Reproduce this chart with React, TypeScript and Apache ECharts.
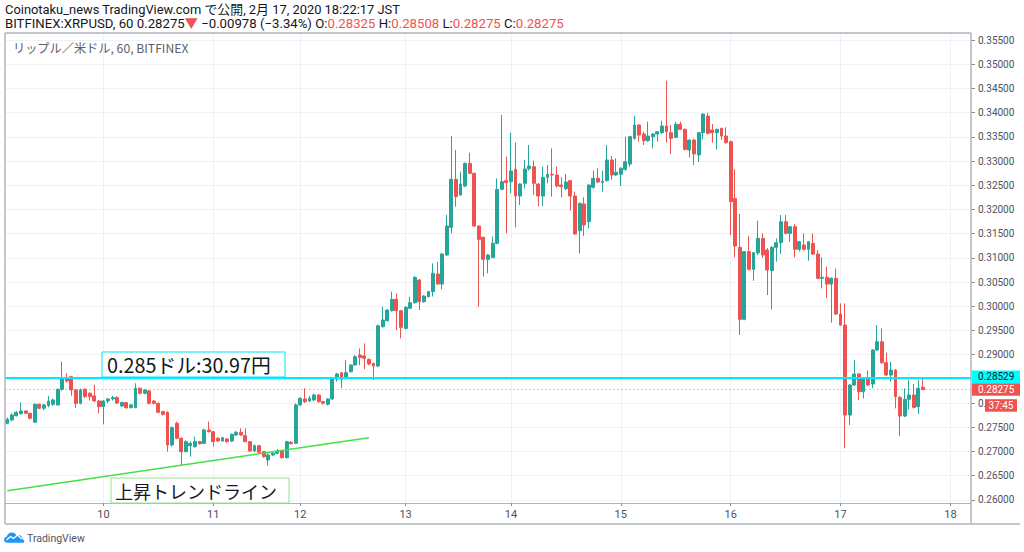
import React, { useEffect, useRef } from "react";
import * as echarts from "echarts";

// Hourly candles, each [open, close, low, high]
const feb09 = [
  [0.27581, 0.27663, 0.2756, 0.277], [0.2765, 0.27753, 0.2762, 0.2779], [0.27739, 0.27808, 0.2772, 0.2783],
  [0.2778, 0.27836, 0.2776, 0.28008], [0.27836, 0.27787, 0.2777, 0.2785], [0.27787, 0.27684, 0.2766, 0.278],
  [0.27601, 0.27973, 0.2759, 0.27994], [0.27973, 0.27891, 0.2787, 0.2799], [0.27891, 0.2796, 0.2785, 0.2798],
  [0.27946, 0.28042, 0.2791, 0.28146], [0.27973, 0.28063, 0.2794, 0.2809], [0.2796, 0.28283, 0.2795, 0.283],
  [0.28283, 0.28511, 0.2825, 0.28855], [0.28511, 0.28456, 0.2842, 0.28614], [0.28545, 0.2827, 0.2815, 0.2856],
  [0.2827, 0.27994, 0.279, 0.2829], [0.27994, 0.2827, 0.2797, 0.283], [0.28283, 0.28132, 0.281, 0.283],
  [0.28201, 0.28132, 0.2805, 0.2822], [0.28146, 0.28042, 0.2802, 0.28373], [0.28042, 0.27925, 0.27787, 0.2806],
];
const feb10 = [
  [0.27925, 0.28042, 0.2756, 0.2806], [0.28042, 0.28084, 0.28, 0.281], [0.28084, 0.28111, 0.2805, 0.2815],
  [0.28111, 0.28, 0.2798, 0.2814], [0.27939, 0.28008, 0.2792, 0.2803], [0.28008, 0.27904, 0.2788, 0.2802],
  [0.27904, 0.2796, 0.2789, 0.2798], [0.27904, 0.28304, 0.2789, 0.28407], [0.28304, 0.28201, 0.2818, 0.2832],
  [0.28201, 0.2827, 0.2818, 0.2829], [0.28249, 0.27994, 0.2797, 0.2827], [0.28042, 0.27994, 0.2797, 0.2806],
  [0.27994, 0.27808, 0.2779, 0.2801], [0.27822, 0.27767, 0.2774, 0.2784], [0.27808, 0.27133, 0.26995, 0.2783],
  [0.27133, 0.27491, 0.271, 0.2752], [0.27581, 0.27271, 0.2725, 0.27615], [0.27271, 0.26995, 0.26719, 0.2729],
  [0.26995, 0.27202, 0.2698, 0.2723], [0.27119, 0.27167, 0.26892, 0.27202], [0.27098, 0.27202, 0.2708, 0.27305],
  [0.27202, 0.2716, 0.2714, 0.27215], [0.27167, 0.27443, 0.2715, 0.2747], [0.27443, 0.27408, 0.2739, 0.27615],
];
const feb11 = [
  [0.27408, 0.27202, 0.271, 0.2742], [0.27271, 0.27215, 0.2719, 0.2729], [0.27215, 0.27284, 0.272, 0.273],
  [0.27257, 0.27202, 0.2718, 0.2727], [0.27215, 0.27353, 0.272, 0.2737], [0.2734, 0.27395, 0.2732, 0.2742],
  [0.27395, 0.2734, 0.2732, 0.27477], [0.27326, 0.27202, 0.2719, 0.27477], [0.27202, 0.27009, 0.2699, 0.27215],
  [0.27009, 0.27119, 0.2699, 0.2714], [0.27119, 0.26981, 0.2696, 0.27133], [0.26995, 0.26892, 0.2687, 0.27009],
  [0.26823, 0.26926, 0.26706, 0.2696], [0.26926, 0.26961, 0.269, 0.27], [0.26961, 0.27009, 0.2694, 0.2705],
  [0.27009, 0.26871, 0.2685, 0.2703], [0.26871, 0.27202, 0.2685, 0.2722], [0.27188, 0.2716, 0.2714, 0.27215],
  [0.27167, 0.2796, 0.2715, 0.2799],
];
const feb12 = [
  [0.2796, 0.28097, 0.2794, 0.2812], [0.28084, 0.28029, 0.28, 0.28304], [0.28042, 0.28097, 0.2802, 0.2815],
  [0.28063, 0.28166, 0.2804, 0.282], [0.28166, 0.28029, 0.28, 0.2818], [0.28029, 0.27994, 0.2797, 0.2804],
  [0.27973, 0.28084, 0.2795, 0.281], [0.28084, 0.28497, 0.2806, 0.2852], [0.28497, 0.286, 0.28442, 0.2862],
  [0.28627, 0.28489, 0.2831, 0.2864], [0.28509, 0.28627, 0.2849, 0.28888], [0.28647, 0.28785, 0.2863, 0.288],
  [0.28785, 0.28957, 0.2877, 0.2899], [0.28991, 0.28943, 0.2878, 0.29129], [0.28971, 0.28923, 0.287, 0.29232],
  [0.28902, 0.28806, 0.2878, 0.2892], [0.28819, 0.28764, 0.28475, 0.2883], [0.28764, 0.29597, 0.2874, 0.2962],
  [0.29577, 0.29715, 0.2956, 0.2999], [0.29701, 0.29921, 0.2968, 0.2994], [0.29907, 0.30142, 0.2989, 0.303],
  [0.30142, 0.29907, 0.29508, 0.30266], [0.29907, 0.29563, 0.29336, 0.2992],
];
const feb13 = [
  [0.29542, 0.29976, 0.2952, 0.3], [0.29956, 0.30073, 0.2994, 0.30197], [0.30073, 0.30596, 0.3005, 0.3062],
  [0.30541, 0.30093, 0.29921, 0.3056], [0.30093, 0.3021, 0.3007, 0.3023], [0.30197, 0.303, 0.3018, 0.3032],
  [0.303, 0.30679, 0.302, 0.30885], [0.30665, 0.30458, 0.3044, 0.3092], [0.30458, 0.31078, 0.30348, 0.311],
  [0.31058, 0.31657, 0.3104, 0.31884], [0.31629, 0.32621, 0.31505, 0.33516], [0.32621, 0.32263, 0.32056, 0.33227],
  [0.32297, 0.32525, 0.3228, 0.32779], [0.32483, 0.32951, 0.3246, 0.3297], [0.32951, 0.32745, 0.3273, 0.33172],
  [0.32745, 0.31657, 0.3164, 0.3276], [0.31657, 0.31381, 0.2999, 0.3167], [0.31423, 0.30968, 0.3061, 0.3144],
  [0.30968, 0.31058, 0.30679, 0.3108], [0.31009, 0.31299, 0.3099, 0.31436], [0.31299, 0.32414, 0.3128, 0.3264],
  [0.32415, 0.32573, 0.324, 0.3395], [0.32594, 0.32553, 0.31506, 0.3309],
];
const feb14 = [
  [0.32573, 0.32794, 0.32332, 0.33586], [0.32828, 0.32277, 0.3163, 0.33379], [0.32277, 0.32525, 0.32091, 0.3254],
  [0.32539, 0.32835, 0.32436, 0.33021], [0.32842, 0.32897, 0.328, 0.33331], [0.32883, 0.32539, 0.32298, 0.33007],
  [0.32525, 0.32277, 0.32064, 0.3254], [0.32277, 0.32663, 0.32071, 0.32883], [0.32663, 0.32725, 0.32539, 0.32918],
  [0.32725, 0.32711, 0.32263, 0.33262], [0.32711, 0.32484, 0.3245, 0.32883], [0.32504, 0.3247, 0.3225, 0.32663],
  [0.32429, 0.32566, 0.324, 0.32731], [0.32594, 0.32277, 0.31974, 0.3261], [0.32277, 0.31492, 0.3148, 0.32367],
  [0.31561, 0.32126, 0.31092, 0.3214], [0.32112, 0.31678, 0.3145, 0.3225], [0.31747, 0.32504, 0.31609, 0.3252],
  [0.32456, 0.32642, 0.3243, 0.328], [0.32642, 0.32566, 0.3254, 0.32849], [0.3256, 0.3258, 0.32367, 0.328],
  [0.32594, 0.33021, 0.3258, 0.33331], [0.33021, 0.32711, 0.32608, 0.33104], [0.32711, 0.32766, 0.3269, 0.33055],
];
const feb15 = [
  [0.32725, 0.32849, 0.32484, 0.3287], [0.32828, 0.32986, 0.328, 0.33503], [0.32938, 0.33503, 0.32883, 0.3352],
  [0.33468, 0.33744, 0.3344, 0.3393], [0.33744, 0.33537, 0.334, 0.3376], [0.33558, 0.3342, 0.3333, 0.336],
  [0.3342, 0.33516, 0.334, 0.33813], [0.335, 0.33558, 0.33262, 0.3357], [0.33558, 0.33606, 0.334, 0.3362],
  [0.33585, 0.33723, 0.3356, 0.33833], [0.33723, 0.33606, 0.33379, 0.3466], [0.33585, 0.33468, 0.33145, 0.33744],
  [0.33489, 0.33758, 0.3347, 0.33813], [0.33758, 0.33654, 0.3364, 0.33813], [0.33654, 0.33241, 0.3322, 0.33675],
  [0.33227, 0.33434, 0.33076, 0.3345], [0.33434, 0.33145, 0.32917, 0.3345], [0.33124, 0.33585, 0.3298, 0.336],
  [0.33585, 0.33971, 0.33448, 0.3398], [0.3393, 0.33572, 0.3355, 0.33998], [0.33641, 0.33585, 0.33379, 0.33764],
  [0.33585, 0.33654, 0.33241, 0.3367], [0.33675, 0.33516, 0.33434, 0.3369], [0.33516, 0.33379, 0.3336, 0.33695],
];
const feb16 = [
  [0.33399, 0.3216, 0.31471, 0.3342], [0.32228, 0.31244, 0.3101, 0.32828], [0.31216, 0.29729, 0.29405, 0.31905],
  [0.29729, 0.31127, 0.2971, 0.3114], [0.31127, 0.30762, 0.3074, 0.3145], [0.30762, 0.31106, 0.30527, 0.3112],
  [0.311, 0.31402, 0.31058, 0.31767], [0.31402, 0.31058, 0.31, 0.31505], [0.31161, 0.30748, 0.30231, 0.312],
  [0.30734, 0.31216, 0.29935, 0.3124], [0.31216, 0.31312, 0.3092, 0.31402], [0.31312, 0.31746, 0.31078, 0.31884],
  [0.31746, 0.31505, 0.3148, 0.31884], [0.31505, 0.31643, 0.31333, 0.3166], [0.31643, 0.31175, 0.3101, 0.31698],
  [0.31175, 0.31333, 0.3113, 0.3135], [0.31264, 0.31175, 0.3115, 0.31505], [0.31175, 0.31333, 0.3094, 0.3135],
  [0.31299, 0.31078, 0.3106, 0.31505], [0.31078, 0.30576, 0.3056, 0.3116], [0.30576, 0.30597, 0.30369, 0.31009],
  [0.30597, 0.30458, 0.30163, 0.30817], [0.30458, 0.30576, 0.2966, 0.30597], [0.30576, 0.29839, 0.2982, 0.30782],
];
const feb17 = [
  [0.29839, 0.29611, 0.2959, 0.30059], [0.29611, 0.27752, 0.27063, 0.30059], [0.27752, 0.28372, 0.27545, 0.2839],
  [0.28372, 0.28599, 0.2835, 0.28888], [0.28599, 0.28234, 0.28062, 0.2862], [0.28234, 0.2851, 0.28096, 0.2853],
  [0.2851, 0.28372, 0.2835, 0.28668], [0.28393, 0.29095, 0.28303, 0.2911], [0.29095, 0.29267, 0.2908, 0.29611],
  [0.29267, 0.28833, 0.2881, 0.29542], [0.28833, 0.28578, 0.2856, 0.2904], [0.28578, 0.28682, 0.28441, 0.28854],
  [0.28682, 0.28131, 0.2789, 0.287], [0.28117, 0.27731, 0.27318, 0.2814], [0.27731, 0.28076, 0.2771, 0.28303],
  [0.28076, 0.28165, 0.27869, 0.28475], [0.28165, 0.2791, 0.2789, 0.28393], [0.27924, 0.28303, 0.27773, 0.28475],
  [0.28325, 0.28275, 0.28275, 0.28508],
];

// day groups (day number, candles, empty future slots)
const dayGroups: { day: number; bars: number[][]; empty: number }[] = [
  { day: 9, bars: feb09, empty: 0 },
  { day: 10, bars: feb10, empty: 0 },
  { day: 11, bars: feb11, empty: 0 },
  { day: 12, bars: feb12, empty: 0 },
  { day: 13, bars: feb13, empty: 0 },
  { day: 14, bars: feb14, empty: 0 },
  { day: 15, bars: feb15, empty: 0 },
  { day: 16, bars: feb16, empty: 0 },
  { day: 17, bars: feb17, empty: 5 },
  { day: 18, bars: [], empty: 5 },
];

const hLevel = 0.28529;
const lastPrice = 0.28275;
const trendFrom = [0, 0.26188];
const trendTo = [79, 0.27283];

const headerLine1 = "Coinotaku_news TradingView.com で公開, 2月 17, 2020 18:22:17 JST";
const paneTitle = "リップル／米ドル, 60, BITFINEX";
const levelNote = "0.285ドル:30.97円";
const trendNote = "上昇トレンドライン";
const countdown = "37:45";

const UP = "#26a69a";
const DOWN = "#ef5350";
const FONT = "Roboto, 'Noto Sans CJK JP', sans-serif";
const CJK = "'Noto Sans CJK JP', Roboto, sans-serif";

const categories: string[] = [];
const candles: number[][] = [];
const dayStart = new Map<number, string>();
dayGroups.forEach((g, gi) => {
  const total = g.bars.length + g.empty;
  for (let k = 0; k < total; k++) {
    if (k === 0 && gi > 0) dayStart.set(categories.length, String(g.day));
    categories.push(`2/${g.day} #${k}`);
    if (k < g.bars.length) candles.push(g.bars[k]);
  }
});

const isDay = (i: number) => dayStart.has(i);

export default function App() {
  const ref = useRef<HTMLDivElement>(null);
  useEffect(() => {
    if (!ref.current) return;
    const path =
      "M4 12 C1.8 12 0 10.4 0 8.4 C0 6.6 1.4 5.1 3.2 4.9 C3.8 2.1 6.3 0 9.2 0 C11.6 0 13.7 1.4 14.6 3.5 C15.3 3.2 16 3 16.8 3 C19.6 3 21.8 5.1 22 7.8 C23.2 8.3 24 9.4 24 10.6 C24 11.4 23.4 12 22.6 12 Z";
    try {
      echarts.graphic.registerShape("tvcloud", echarts.graphic.extendPath(path, {}));
    } catch (e) {}
    const chart = echarts.init(ref.current, null, { renderer: "svg" });
    const option: any = {
      animation: false,
      backgroundColor: "#ffffff",
      grid: { left: 5, right: 53, top: 33, bottom: 49, containLabel: false, outerBoundsMode: "none" },
      xAxis: {
        type: "category",
        data: categories,
        boundaryGap: true,
        axisLine: { show: true, lineStyle: { color: "#b2b5be", width: 1 } },
        axisTick: { show: true, interval: isDay, alignWithLabel: true, length: 3, lineStyle: { color: "#8a8d96" } },
        axisLabel: {
          interval: isDay,
          formatter: (_v: string, i: number) => dayStart.get(i) ?? "",
          color: "#4c525e",
          fontSize: 11,
          fontFamily: FONT,
          margin: 6,
        },
        splitLine: { show: true, interval: isDay, alignWithLabel: true, lineStyle: { color: "#eef1f6", width: 1 } },
      },
      yAxis: {
        type: "value",
        position: "right",
        scale: true,
        min: 0.25934,
        max: 0.35645,
        splitNumber: 20,
        axisLine: { show: false },
        axisTick: { show: true, length: 4, lineStyle: { color: "#8a8d96" } },
        axisLabel: {
          showMinLabel: false,
          showMaxLabel: false,
          formatter: (v: number) => {
            const s = v.toFixed(5);
            // the 0.285 label sits under the level tag; 0.28 is mostly hidden by the countdown tag
            if (s === "0.28500") return "";
            if (s === "0.28000") return "0.";
            return s;
          },
          color: "#4c525e",
          fontSize: 10,
          fontFamily: FONT,
          margin: 7,
        },
        splitLine: { show: true, lineStyle: { color: "#eef1f6", width: 1 } },
      },
      series: [
        {
          type: "candlestick",
          data: candles,
          barWidth: 3.4,
          itemStyle: { color: UP, color0: DOWN, borderColor: UP, borderColor0: DOWN, borderWidth: 1 },
          markLine: {
            silent: true,
            precision: 5,
            symbol: ["none", "none"],
            label: { show: false },
            animation: false,
            data: [
              { yAxis: lastPrice, lineStyle: { color: "rgba(239,83,80,0.4)", width: 1, type: [2, 2] } },
              { yAxis: hLevel, lineStyle: { color: "#00eaff", width: 2, type: "solid" } },
              [
                { coord: trendFrom, lineStyle: { color: "#44e044", width: 1.5, type: "solid" } },
                { coord: trendTo },
              ],
            ],
          },
        },
      ],
    };
    chart.setOption(option);

    const yC = chart.convertToPixel({ yAxisIndex: 0 }, hLevel) as number;
    const yR = chart.convertToPixel({ yAxisIndex: 0 }, lastPrice) as number;
    const frame = "#b2b5be";
    const txt = (x: number, y: number, text: string, font: string, fill: string, align = "left") => ({
      type: "text",
      z: 120,
      silent: true,
      x,
      y,
      style: { text, font, fill, align, verticalAlign: "middle", textAlign: align, textVerticalAlign: "middle" },
    });
    const graphic: any[] = [
      // frame
      { type: "line", z: 110, silent: true, shape: { x1: 5, y1: 33, x2: 971, y2: 33 }, style: { stroke: frame, lineWidth: 1.5 } },
      { type: "line", z: 110, silent: true, shape: { x1: 5, y1: 33, x2: 5, y2: 524 }, style: { stroke: frame, lineWidth: 1.5 } },
      { type: "line", z: 110, silent: true, shape: { x1: 971, y1: 33, x2: 971, y2: 524 }, style: { stroke: frame, lineWidth: 1.5 } },
      { type: "line", z: 110, silent: true, shape: { x1: 5, y1: 524, x2: 1020, y2: 524 }, style: { stroke: frame, lineWidth: 1.5 } },
      // header
      txt(5, 9.5, headerLine1, `12.9px ${FONT}`, "#131722"),
      {
        type: "text",
        z: 120,
        silent: true,
        x: 5,
        y: 23,
        style: {
          text:
            "{d|BITFINEX:XRPUSD, 60 0.28275}{r|▼}{d| −0.00978 (−3.34%) O:}{r|0.28325}{d| H:}{r|0.28508}{d| L:}{r|0.28275}{d| C:}{r|0.28275}",
          font: `13.2px ${FONT}`,
          verticalAlign: "middle",
          textVerticalAlign: "middle",
          rich: {
            d: { fill: "#131722", fontSize: 13.2, fontFamily: FONT },
            r: { fill: DOWN, fontSize: 13.2, fontFamily: FONT },
          },
        },
      },
      txt(13, 48, paneTitle, `12.2px ${CJK}`, "#5d606b"),
      // level note box
      { type: "rect", z: 115, silent: true, shape: { x: 102, y: 352, width: 183, height: 25 }, style: { fill: "#ffffff", stroke: "#00e5ff", lineWidth: 1 } },
      txt(107, 364.5, levelNote, `19.8px ${CJK}`, "#131722"),
      // trend note box
      { type: "rect", z: 115, silent: true, shape: { x: 111, y: 478, width: 178, height: 25 }, style: { fill: "#ffffff", stroke: "#8ee68e", lineWidth: 1 } },
      txt(115, 491, trendNote, `18px ${CJK}`, "#131722"),
      // price tags on right axis
      { type: "rect", z: 115, silent: true, shape: { x: 972, y: yC - 7, width: 48, height: 12.5 }, style: { fill: "#00ffff" } },
      txt(978, yC - 0.8, hLevel.toFixed(5), `10px ${FONT}`, "#131722"),
      { type: "rect", z: 115, silent: true, shape: { x: 972, y: yR - 6.5, width: 48, height: 12.5 }, style: { fill: DOWN } },
      txt(978, yR - 0.3, lastPrice.toFixed(5), `10px ${FONT}`, "#ffffff"),
      { type: "rect", z: 115, silent: true, shape: { x: 985, y: yR + 9.5, width: 32, height: 12.5 }, style: { fill: DOWN } },
      txt(1001, yR + 15.8, countdown, `10px ${FONT}`, "#ffffff", "center"),
      // logo
      { type: "tvcloud", z: 120, silent: true, x: 4, y: 532.5, scaleX: 0.85, scaleY: 0.85, style: { fill: "#2196f3" } },
      {
        type: "polyline",
        z: 121,
        silent: true,
        shape: { points: [[6.5, 540], [10.5, 536.5], [13.5, 538.5], [17.5, 535], [22, 539]] },
        style: { stroke: "#ffffff", lineWidth: 1.2, fill: "none" },
      },
      txt(27, 538, "TradingView", `10.5px ${FONT}`, "#50535e"),
    ];
    chart.setOption({ graphic });
    return () => chart.dispose();
  }, []);
  return <div ref={ref} style={{ position: "absolute", left: 0, top: 0, width: 1024, height: 552 }} />;
}
